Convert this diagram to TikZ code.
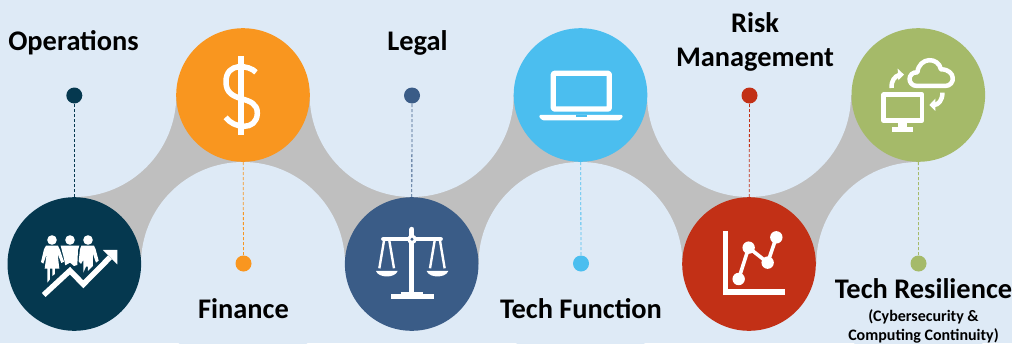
\documentclass[tikz,border=0pt]{standalone}
\usepackage{fontspec}
\setmainfont{Carlito}
\definecolor{paper}{HTML}{DEEAF6}
\definecolor{band}{HTML}{BFBFBF}
\definecolor{opscol}{HTML}{05384F}
\definecolor{fincol}{HTML}{F9961F}
\definecolor{legcol}{HTML}{3A5C87}
\definecolor{teccol}{HTML}{4BBEEF}
\definecolor{riscol}{HTML}{C23016}
\definecolor{rescol}{HTML}{A5BA69}
\tikzset{
  bigball/.style={circle, minimum size=133.6pt, inner sep=0pt, fill=#1},
  bead/.style={circle, minimum size=16pt, inner sep=0pt, fill=#1},
  stem/.style={densely dashed, line width=0.8pt, draw=#1},
  headtext/.style={font=\fontsize{28.4}{34.7}\selectfont\bfseries, align=center, inner sep=0pt},
  subtext/.style={font=\fontsize{16}{19}\selectfont\bfseries, align=center, inner sep=0pt},
  icon/.style={x=0.3333pt, y=-0.3333pt, white, line join=round},
}
\begin{document}
\begin{tikzpicture}[x=1pt, y=-1pt]
  \useasboundingbox (0,0) rectangle (1012,343);
  \fill[paper] (0,0) rectangle (1012,343);
  \fill[band] (74.3,95) rectangle (918.3,264);
  \foreach \cx in {74.3,411.7,749} \fill[paper] (\cx,95) circle (102pt);
  \foreach \cx in {243,580.5,918.3} \fill[paper] (\cx,264) circle (102pt);

  \node[bigball=opscol] (opsball) at (74.3,264) {};
  \node[bigball=fincol] (finball) at (243,95) {};
  \node[bigball=legcol] (legball) at (411.7,264) {};
  \node[bigball=teccol] (tecball) at (580.5,95) {};
  \node[bigball=riscol] (risball) at (749,264) {};
  \node[bigball=rescol] (resball) at (918.3,95) {};

  \node[bead=opscol] (opsbead) at (74.3,95.5) {};
  \node[bead=fincol] (finbead) at (243.5,263.5) {};
  \node[bead=legcol] (legbead) at (412,95.5) {};
  \node[bead=teccol] (tecbead) at (581,263.5) {};
  \node[bead=riscol] (risbead) at (749.5,95.5) {};
  \node[bead=rescol] (resbead) at (918.5,263.5) {};

  \draw[stem=opscol] (opsball) -- (opsbead);
  \draw[stem=fincol] (finball) -- (finbead);
  \draw[stem=legcol] (legball) -- (legbead);
  \draw[stem=teccol] (tecball) -- (tecbead);
  \draw[stem=riscol] (risball) -- (risbead);
  \draw[stem=rescol] (resball) -- (resbead);

  \node[headtext] (opstext) at (73.5,42.5) {Operations};
  \node[headtext] (fintext) at (243.5,309) {Finance};
  \node[headtext] (legtext) at (417.5,42.5) {Legal};
  \node[headtext] (tectext) at (581,309) {Tech Function};
  \node[headtext] (ristext) at (755,42) {Risk\\Management};
  \node[headtext] (restext) at (923.5,289) {Tech Resilience};
  \node[subtext] (ressub) at (923.5,326) {(Cybersecurity \&\\Computing Continuity)};

  \begin{scope}[shift={(0,170)}, icon]
    \foreach \hx in {156,210,264} \fill (\hx,210) circle (4.8pt);
    \fill (138,227) -- (174,227) -- (180,240) -- (192,275) -- (184,279) -- (173,252) -- (178,296) -- (165,296)
      -- (165,312) -- (157,318) -- (157,296) -- (150,296) -- (150,328) -- (142,338) -- (142,296) -- (134,296)
      -- (140,252) -- (130,281) -- (123,276) -- (132,238) -- cycle;
    \fill (182,227) -- (238,227) -- (234,240) -- (232,285) -- (222,288) -- (210,278) -- (196,286) -- (191,262)
      -- cycle;
    \fill (244,227) -- (282,227) -- (287,238) -- (296,272) -- (288,278) -- (279,252) -- (279,288) -- (264,303)
      -- (264,290) -- (258,290) -- (250,308) -- (250,270) -- (243,282) -- (236,274) -- (240,238) -- cycle;
    \draw[line width=5.5pt, line join=miter] (131,375) -- (210,302) -- (250,343) -- (330,262);
    \fill (309,240) -- (352,240) -- (352,283) -- cycle;
  \end{scope}

  \begin{scope}[shift={(160,10)}, icon]
    \draw[line width=5.5pt] (243,138) -- (243,375);
    \draw[line width=5.5pt] (288,187) .. controls (268,165) and (198,155) .. (198,215)
      .. controls (197,285) and (293,250) .. (292,310) .. controls (290,365) and (220,355) .. (197,322);
  \end{scope}

  \begin{scope}[shift={(340,170)}, icon]
    \draw[line width=5pt, line cap=round] (216,178) -- (216,365);
    \draw[line width=4.4pt, line cap=round] (130,207) -- (302,207);
    \fill (216,208) circle (4.8pt);
    \fill[legcol] (216,208) circle (1.6pt);
    \draw[line width=2.4pt] (132,212) -- (118,295) (148,212) -- (162,295);
    \draw[line width=2.4pt] (284,212) -- (270,295) (300,212) -- (314,295);
    \fill (108,303) -- (173,303) .. controls (165,325) and (116,325) .. (108,303) -- cycle;
    \fill (260,303) -- (325,303) .. controls (317,325) and (268,325) .. (260,303) -- cycle;
    \fill (183,365) rectangle (250,373);
    \fill (152,372) rectangle (281,387);
  \end{scope}

  \begin{scope}[shift={(500,10)}, icon]
    \draw[line width=5.3pt, rounded corners=1pt] (160,190) rectangle (328,297);
    \fill[rounded corners=1pt] (118,315) -- (368,315) -- (368,322) -- (358,331) -- (128,331) -- (118,322) -- cycle;
    \fill[teccol] (228,315) rectangle (262,320);
  \end{scope}

  \begin{scope}[shift={(672,170)}, icon]
    \draw[line width=5.3pt, line join=miter] (160,183) -- (160,366) -- (338,366);
    \draw[line width=3.6pt] (200,327) -- (230,233) -- (287,278) -- (313,202);
    \foreach \px/\py in {200/327,230/233,287/278,313/202} \fill (\px,\py) circle (6.2pt);
  \end{scope}

  \begin{scope}[shift={(830,10)}, icon]
    \draw[line width=4.5pt] (161,254) rectangle (276,332);
    \fill (205,336) rectangle (232,352);
    \fill (186,350) rectangle (250,366);
    \draw[line width=4.5pt] (262,228) .. controls (230,228) and (232,185) .. (262,187)
      .. controls (268,140) and (325,140) .. (333,178) .. controls (378,178) and (378,228) .. (345,228) -- cycle;
    \draw[line width=4.5pt] (185,234) .. controls (183,212) and (195,198) .. (208,195);
    \fill (203,176) -- (222,194) -- (205,211) -- cycle;
    \draw[line width=4.5pt] (337,248) .. controls (338,270) and (325,285) .. (312,285);
    \fill (298,285) -- (316,266) -- (316,303) -- cycle;
  \end{scope}
\end{tikzpicture}
\end{document}
